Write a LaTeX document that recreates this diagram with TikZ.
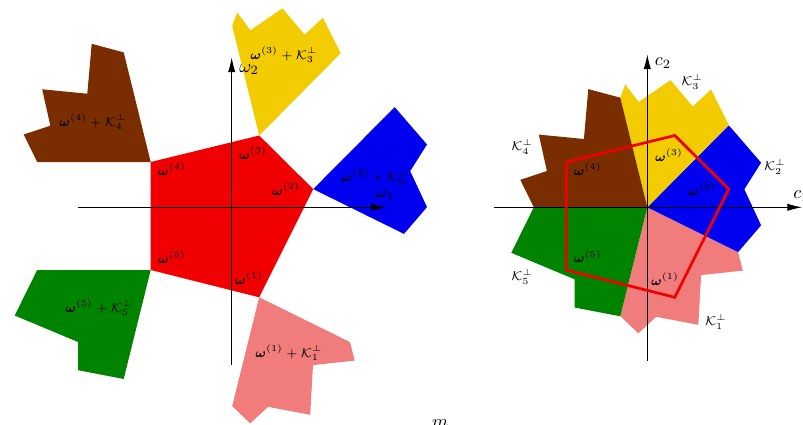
\documentclass[tikz,border=0pt]{standalone}
\usepackage{amsmath,amssymb}
\usetikzlibrary{arrows.meta}
\definecolor{kred}{RGB}{240,0,0}
\definecolor{kyellow}{RGB}{242,204,0}
\definecolor{kbrown}{RGB}{122,46,0}
\definecolor{kblue}{RGB}{0,0,240}
\definecolor{kgreen}{RGB}{0,132,0}
\definecolor{kpink}{RGB}{240,124,124}
\newcommand\pathKone{(0,0) -- (90.8,44.8) -- (95.5,63.3) -- (53.8,67.8) -- (51,117.5) -- (8.8,109.5) -- (-9,126) -- (-27,108.8) -- cycle}
\newcommand\pathKtwo{(0,0) -- (81.5,-82) -- (113.8,-44.6) -- (97,-18) -- (113.8,18) -- (90.8,44.8) -- cycle}
\newcommand\pathKthree{(0,0) -- (-27,-109.5) -- (-22,-123) -- (-8.7,-105.3) -- (23.2,-127.2) -- (45.5,-100.8) -- (63.7,-117.8) -- (81.5,-82.3) -- cycle}
\newcommand\pathKfour{(0,0) -- (-113.5,0) -- (-127,-27.5) -- (-100.4,-36.3) -- (-108.5,-72.7) -- (-63.4,-68.3) -- (-59,-118.2) -- (-27,-109.6) -- cycle}
\newcommand\pathKfive{(0,0) -- (-113.5,0) -- (-136,45.5) -- (-72.7,72) -- (-72.7,100.2) -- (-27,109) -- cycle}
\newcommand\bw{\boldsymbol{\omega}}
\tikzset{
  axisline/.style={line width=0.5pt, -{Latex[length=8pt,width=4pt]}},
  lbl/.style={inner sep=0pt, font=\fontsize{7.3pt}{9pt}\selectfont},
  axlbl/.style={inner sep=0pt, font=\normalsize},
}
\begin{document}
\begin{tikzpicture}[x=0.55pt,y=-0.55pt]
\useasboundingbox (0,0) rectangle (803,424);
% ---------- left figure ----------
\coordinate (OL) at (231.7,207.3);
\coordinate (w1) at (259.2,297.3);
\coordinate (w2) at (313.2,189.1);
\coordinate (w3) at (259.2,135.5);
\coordinate (w4) at (150.7,162);
\coordinate (w5) at (150.7,270);
\fill[kred] (w1) -- (w2) -- (w3) -- (w4) -- (w5) -- cycle;
\begin{scope}[shift={(w1)}]\fill[kpink] \pathKone;\end{scope}
\begin{scope}[shift={(w2)}]\fill[kblue] \pathKtwo;\end{scope}
\begin{scope}[shift={(w3)}]\fill[kyellow] \pathKthree;\end{scope}
\begin{scope}[shift={(w4)}]\fill[kbrown] \pathKfour;\end{scope}
\begin{scope}[shift={(w5)}]\fill[kgreen] \pathKfive;\end{scope}
\coordinate (xLs) at (78,207.3);
\coordinate (xLe) at (386,207.3);
\coordinate (yLs) at (231.7,365);
\coordinate (yLe) at (231.7,57.5);
\draw[axisline] (xLs) -- (xLe);
\draw[axisline] (yLs) -- (yLe);
\node[axlbl] (om1) at (385,195) {$\omega_1$};
\node[axlbl] (om2) at (249,69.5) {$\omega_2$};
\node[lbl] (lw3) at (253,153) {$\bw^{(3)}$};
\node[lbl] (lw4) at (172,169) {$\bw^{(4)}$};
\node[lbl] (lw2) at (286,189) {$\bw^{(2)}$};
\node[lbl] (lw5) at (172,257) {$\bw^{(5)}$};
\node[lbl] (lw1) at (249,278) {$\bw^{(1)}$};
\node[lbl] (lk3) at (284,55) {$\bw^{(3)}+\mathcal{K}_3^{\perp}$};
\node[lbl] (lk4) at (93,122) {$\bw^{(4)}+\mathcal{K}_4^{\perp}$};
\node[lbl] (lk2) at (375,177) {$\bw^{(2)}+\mathcal{K}_2^{\perp}$};
\node[lbl] (lk5) at (99,308) {$\bw^{(5)}+\mathcal{K}_5^{\perp}$};
\node[lbl] (lk1) at (289,353) {$\bw^{(1)}+\mathcal{K}_1^{\perp}$};
% ---------- right figure ----------
\coordinate (OR) at (647.3,207.3);
\begin{scope}[shift={(OR)}]
\fill[kpink] \pathKone;
\fill[kblue] \pathKtwo;
\fill[kyellow] \pathKthree;
\fill[kbrown] \pathKfour;
\fill[kgreen] \pathKfive;
\coordinate (v1) at (27.5,90);
\coordinate (v2) at (81.5,-18.2);
\coordinate (v3) at (27.5,-71.8);
\coordinate (v4) at (-81,-45.3);
\coordinate (v5) at (-81,62.7);
\end{scope}
\coordinate (xRs) at (494,207.3);
\coordinate (xRe) at (802,207.3);
\coordinate (yRs) at (647.3,360.7);
\coordinate (yRe) at (647.3,54.5);
\draw[axisline] (xRs) -- (xRe);
\draw[axisline] (yRs) -- (yRe);
\draw[kred, line width=1.5pt, line join=miter] (v1) -- (v2) -- (v3) -- (v4) -- (v5) -- cycle;
\node[axlbl, anchor=west] (c1) at (793,196) {$c_1$};
\node[axlbl] (c2) at (663,63) {$c_2$};
\node[lbl] (rw3) at (669,155) {$\bw^{(3)}$};
\node[lbl] (rw4) at (587.7,169.3) {$\bw^{(4)}$};
\node[lbl] (rw2) at (701.7,189.3) {$\bw^{(2)}$};
\node[lbl] (rw5) at (587.7,256.7) {$\bw^{(5)}$};
\node[lbl] (rw1) at (665,279.3) {$\bw^{(1)}$};
\node[lbl] (rk3) at (692.3,81.7) {$\mathcal{K}_3^{\perp}$};
\node[lbl] (rk4) at (522.3,146.7) {$\mathcal{K}_4^{\perp}$};
\node[lbl] (rk2) at (775,166.7) {$\mathcal{K}_2^{\perp}$};
\node[lbl] (rk5) at (522.3,276.7) {$\mathcal{K}_5^{\perp}$};
\node[lbl] (rk1) at (716,321.7) {$\mathcal{K}_1^{\perp}$};
\node[axlbl, anchor=north] (cut) at (440,419.5) {$m$};
\end{tikzpicture}
\end{document}
